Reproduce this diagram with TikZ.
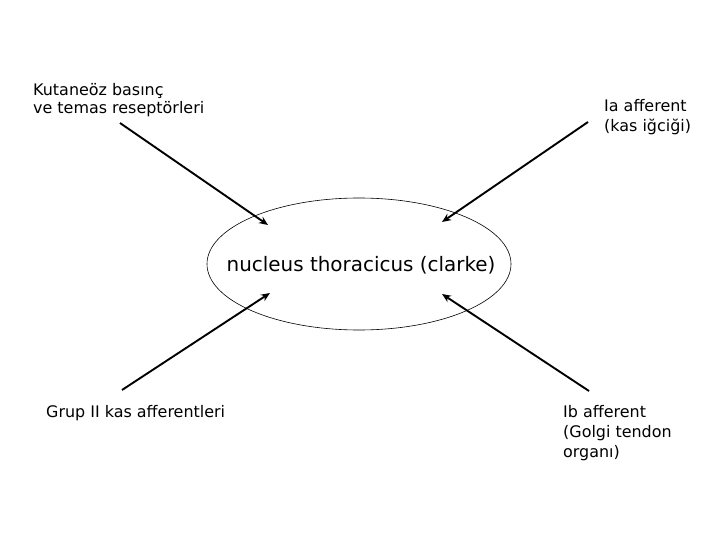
\documentclass[tikz,border=0pt]{standalone}
\usepackage{fontspec}
\setmainfont{DejaVu Sans}
\usetikzlibrary{shapes.geometric,arrows.meta}
\begin{document}
\begin{tikzpicture}[x=1bp,y=-1bp,
  lbl/.style={anchor=north west,inner sep=0pt,align=left,font=\fontsize{16}{20}\selectfont},
  arr/.style={line width=1.9bp,-{Stealth[length=9bp,width=7.5bp]}}]
\useasboundingbox[fill=white] (0,0) rectangle (720,540);
\node[ellipse,draw,line width=0.6bp,minimum width=304bp,minimum height=132bp,inner sep=0pt] (nuc) at (359,264) {};
\node[inner sep=0pt,font=\fontsize{20}{24}\selectfont] (nuctext) at (361,265) {nucleus thoracicus (clarke)};
\node[lbl,font=\fontsize{16}{18}\selectfont] (kut) at (33,83) {Kutaneöz basınç\\ve temas reseptörleri};
\node[lbl] (ia) at (604,99) {Ia afferent\\(kas iğciği)};
\node[lbl] (grup) at (46,405) {Grup II kas afferentleri};
\node[lbl] (ib) at (563,405) {Ib afferent\\(Golgi tendon\\organı)};
\coordinate (s1) at (120,123); \coordinate (e1) at (268,225);
\coordinate (s2) at (588,122); \coordinate (e2) at (442,222);
\coordinate (s3) at (122,390); \coordinate (e3) at (270,293);
\coordinate (s4) at (589,391); \coordinate (e4) at (442,294);
\draw[arr] (s1) -- (e1);
\draw[arr] (s2) -- (e2);
\draw[arr] (s3) -- (e3);
\draw[arr] (s4) -- (e4);
\end{tikzpicture}
\end{document}
